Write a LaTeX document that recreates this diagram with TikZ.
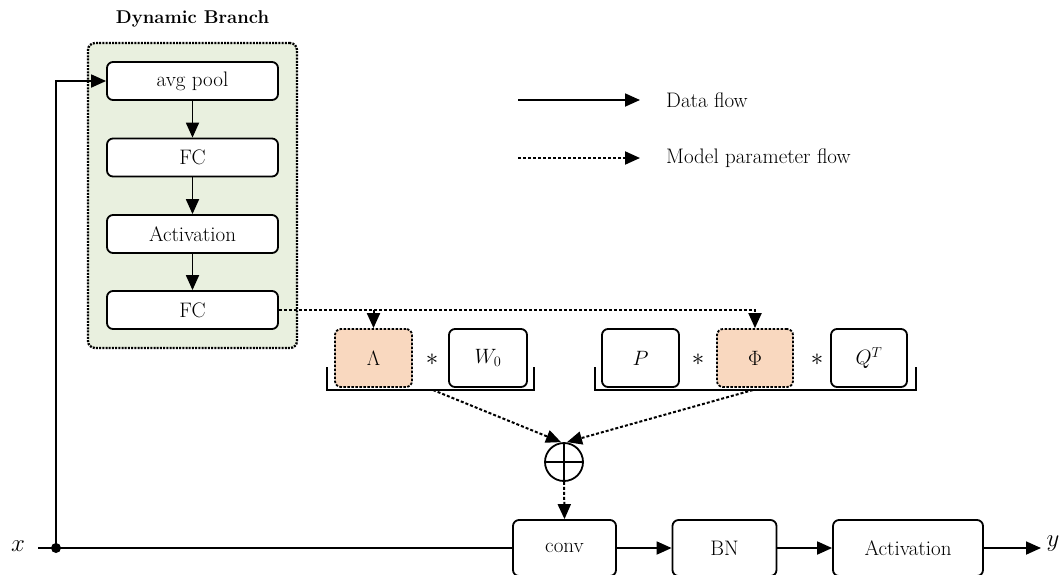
\documentclass[tikz,border=0pt]{standalone}
\usetikzlibrary{arrows.meta}
\definecolor{greenfill}{RGB}{233,240,223}
\definecolor{orangefill}{RGB}{249,216,191}
\begin{document}
\begin{tikzpicture}[x=1pt,y=-1pt,
  txt/.style={font=\fontsize{21}{25}\selectfont},
  blk/.style={draw, line width=1.8pt, rounded corners=6pt, fill=white, inner sep=0pt, txt},
  dyn/.style={blk, dash pattern=on 2.5pt off 1.5pt, fill=orangefill},
  tipx/.style={-{Triangle[length=15pt,width=13pt]}},
  dat/.style={line width=1.8pt, tipx},
  par/.style={line width=2pt, dash pattern=on 3pt off 2pt, tipx},
  brk/.style={line width=1.8pt},
  star/.style={font=\fontsize{40}{40}\selectfont, inner sep=0pt}
]
\useasboundingbox (0,0) rectangle (1064,574);

% Dynamic branch container
\node[font=\fontsize{18.5}{22}\selectfont\bfseries] (title) at (192.5,19) {Dynamic Branch};
\node[draw, line width=2.3pt, dash pattern=on 2pt off 1.2pt, rounded corners=7pt, fill=greenfill,
      minimum width=209pt, minimum height=305pt, inner sep=0pt] (dynbox) at (192.5,195.5) {};

\node[blk, minimum width=171pt, minimum height=38pt] (pool) at (192.5,81) {avg pool};
\node[blk, minimum width=171pt, minimum height=38pt] (fc1) at (192.5,157.5) {FC};
\node[blk, minimum width=171pt, minimum height=38pt] (act1) at (192.5,234) {Activation};
\node[blk, minimum width=171pt, minimum height=38pt] (fc2) at (192.5,310) {FC};

\draw[dat] (pool) -- (fc1);
\draw[dat] (fc1) -- (act1);
\draw[dat] (act1) -- (fc2);

% Legend
\coordinate (l1a) at (518,100);
\coordinate (l1b) at (640,100);
\coordinate (l2a) at (518,158);
\coordinate (l2b) at (640,158);
\draw[dat] (l1a) -- (l1b);
\draw[par] (l2a) -- (l2b);
\node[txt, anchor=west, inner sep=0pt] (ldata) at (666,100) {Data flow};
\node[txt, anchor=west, inner sep=0pt] (lpar) at (666,158) {Model parameter flow};

% Parameter boxes
\node[dyn, minimum width=77pt, minimum height=58pt] (lam) at (373.5,358) {$\Lambda$};
\node[blk, minimum width=78pt, minimum height=58pt] (w0) at (488,358) {$W_0$};
\node[star] (ast1) at (432,360) {$\ast$};
\node[blk, minimum width=77pt, minimum height=58pt] (pp) at (640.5,358) {$P$};
\node[dyn, minimum width=76pt, minimum height=58pt] (phi) at (755,358) {$\Phi$};
\node[blk, minimum width=76pt, minimum height=58pt] (qt) at (869,358) {$Q^T$};
\node[star] (ast2) at (698,360) {$\ast$};
\node[star] (ast3) at (817,360) {$\ast$};

% Brackets
\coordinate (b1l) at (327,367);
\coordinate (b1r) at (534,367);
\coordinate (b2l) at (595,367);
\coordinate (b2r) at (916,367);
\draw[brk] (b1l) -- ++(0,23) -| (b1r);
\draw[brk] (b2l) -- ++(0,23) -| (b2r);
\coordinate (b1m) at (433,390);
\coordinate (b2m) at (753,390);

% Dotted parameter flow from FC
\draw[par] (fc2.east) -| (phi.north);
\draw[par] (lam.north |- fc2.east) -- (lam.north);

% oplus
\node[draw, circle, line width=1.8pt, minimum size=38pt, inner sep=0pt] (op) at (564,462) {};
\draw[line width=1.8pt] (op.north) -- (op.south) (op.west) -- (op.east);
\draw[par] (b1m) -- ([xshift=-3pt]op.north);
\draw[par] (b2m) -- ([xshift=3pt]op.north);

% Main path
\node[blk, minimum width=103pt, minimum height=56pt] (conv) at (564.5,548) {conv};
\node[blk, minimum width=104pt, minimum height=56pt] (bn) at (724.5,548) {BN};
\node[blk, minimum width=150pt, minimum height=56pt] (act2) at (908,548) {Activation};
\draw[par] (op.south) -- (conv.north);

\node[font=\fontsize{26}{30}\selectfont, inner sep=0pt] (xin) at (18,546) {$x$};
\node[font=\fontsize{26}{30}\selectfont, inner sep=0pt] (yout) at (1053,544) {$y$};
\coordinate (split) at (56,548);
\coordinate (xs) at (38,548);
\coordinate (ye) at (1041,548);
\draw[line width=1.8pt] (xs) -- (conv.west);
\draw[dat] (split) |- (pool.west);
\fill (split) circle (5pt);
\draw[dat] (conv) -- (bn);
\draw[dat] (bn) -- (act2);
\draw[dat] (act2.east) -- (ye);
\end{tikzpicture}
\end{document}
